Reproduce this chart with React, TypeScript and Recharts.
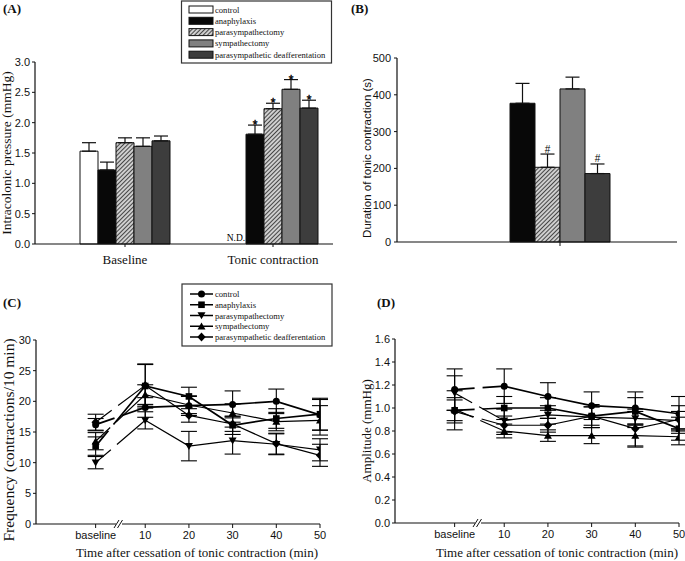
import React from "react";
import {
  BarChart,
  Bar,
  LineChart,
  Line,
  XAxis,
  YAxis,
  ErrorBar,
  LabelList,
  ReferenceDot,
} from "recharts";

const SERIF = '"Liberation Serif", "Times New Roman", serif';
const SANS = '"Liberation Sans", Arial, sans-serif';
const INK = "#111";

const groupNames = ["control", "anaphylaxis", "parasympathectomy", "sympathectomy", "parasympathetic deafferentation"];
const groupKeys = ["ctrl", "ana", "para", "symp", "deaff"];
const markerShapes = ["circle", "square", "down", "up", "diamond"];

// (A) intracolonic pressure, mmHg
const pressureCategories = ["Baseline", "Tonic contraction"];
const baselinePressure = [1.53, 1.22, 1.67, 1.61, 1.7];
const baselinePressureErr = [0.14, 0.13, 0.08, 0.14, 0.08];
const baselinePressureMarks = ["", "", "", "", ""];
const tonicPressure = [null, 1.81, 2.23, 2.55, 2.24];
const tonicPressureErr = [null, 0.15, 0.09, 0.16, 0.13];
const tonicPressureMarks = ["N.D.", "*", "*", "*", "*"];

// (B) duration of tonic contraction, s (no control group)
const durationKeys = ["ana", "para", "symp", "deaff"];
const duration = [377, 203, 416, 186];
const durationErr = [54, 36, 32, 26];
const durationMarks = ["", "#", "", "#"];

// (C) and (D) time course
const timeLabels = ["baseline", "10", "20", "30", "40", "50"];
const timePos = [-1.35, 10, 20, 30, 40, 50];

const freqControl = [16.2, 19.0, 19.3, 19.5, 20.0, 17.8];
const freqAna = [12.7, 22.5, 20.8, 16.1, 17.2, 17.9];
const freqPara = [10.0, 16.9, 12.7, 13.6, 13.0, 12.1];
const freqSymp = [13.5, 21.1, 19.4, 18.1, 16.7, 16.9];
const freqDeaff = [16.6, 22.6, 17.7, 16.3, 13.1, 11.2];
const freqControlErr = [1.0, 1.6, 1.6, 2.2, 2.0, 2.5];
const freqAnaErr = [1.5, 3.6, 1.5, 1.5, 1.6, 2.6];
const freqParaErr = [1.0, 1.4, 2.4, 2.2, 1.7, 1.8];
const freqSympErr = [1.4, 1.6, 1.4, 1.5, 1.5, 2.4];
const freqDeaffErr = [1.3, 3.4, 1.1, 1.2, 1.7, 1.8];

const ampControl = [1.16, 1.19, 1.1, 1.02, 1.0, 0.95];
const ampAna = [0.98, 1.0, 1.0, 0.93, 0.97, 0.82];
const ampPara = [1.13, 0.89, 0.94, 0.92, 0.91, 0.89];
const ampSymp = [0.99, 0.8, 0.76, 0.76, 0.76, 0.75];
const ampDeaff = [0.97, 0.85, 0.85, 0.93, 0.82, 0.9];
const ampControlErr = [0.18, 0.15, 0.12, 0.12, 0.14, 0.15];
const ampAnaErr = [0.17, 0.1, 0.09, 0.1, 0.12, 0.1];
const ampParaErr = [0.15, 0.1, 0.08, 0.09, 0.08, 0.08];
const ampSympErr = [0.1, 0.06, 0.05, 0.07, 0.1, 0.07];
const ampDeaffErr = [0.1, 0.08, 0.06, 0.08, 0.15, 0.12];

const barFill = (key: string, hatchId: string) =>
  ({ ctrl: "#ffffff", ana: "#080808", para: `url(#${hatchId})`, symp: "#808080", deaff: "#3d3d3d" } as any)[key];

const lineWidths = [1.7, 1.7, 1.2, 1.2, 1.2];

const pressureRows = [baselinePressure, tonicPressure].map((vals, gi) => {
  const errs = gi === 0 ? baselinePressureErr : tonicPressureErr;
  const marks = gi === 0 ? baselinePressureMarks : tonicPressureMarks;
  const row: any = { group: pressureCategories[gi] };
  groupKeys.forEach((k, j) => {
    row[k] = vals[j] ?? 0;
    row[k + "Err"] = [0, errs[j] ?? 0];
    row[k + "Mark"] = marks[j];
  });
  return row;
});

const durationRow: any = { group: "" };
durationKeys.forEach((k, j) => {
  durationRow[k] = duration[j];
  durationRow[k + "Err"] = [0, durationErr[j]];
  durationRow[k + "Mark"] = durationMarks[j];
});
const durationRows = [durationRow];

function buildTimeRows(series: number[][], errs: number[][]) {
  return timePos.map((t, i) => {
    const row: any = { t };
    groupKeys.forEach((k, j) => {
      row[k] = series[j][i];
      row[k + "Err"] = errs[j][i];
    });
    return row;
  });
}

const freqRows = buildTimeRows(
  [freqControl, freqAna, freqPara, freqSymp, freqDeaff],
  [freqControlErr, freqAnaErr, freqParaErr, freqSympErr, freqDeaffErr]
);
const ampRows = buildTimeRows(
  [ampControl, ampAna, ampPara, ampSymp, ampDeaff],
  [ampControlErr, ampAnaErr, ampParaErr, ampSympErr, ampDeaffErr]
);

const fmtTime = (v: number) => {
  const i = timePos.indexOf(v);
  return i >= 0 ? timeLabels[i] : "";
};

function Hatch({ id }: { id: string }) {
  return (
    <pattern id={id} width={3} height={3} patternUnits="userSpaceOnUse" patternTransform="rotate(45)">
      <rect width={3} height={3} fill="#cfcfcf" />
      <line x1={0} y1={0} x2={0} y2={3} stroke="#222" strokeWidth={1.6} />
    </pattern>
  );
}

function MarkerShape({ shape, cx, cy }: { shape: string; cx: number; cy: number }) {
  if (shape === "circle") return <circle cx={cx} cy={cy} r={3.5} fill="#000" />;
  if (shape === "square") return <rect x={cx - 3.3} y={cy - 3.3} width={6.6} height={6.6} fill="#000" />;
  if (shape === "down")
    return <polygon points={`${cx - 4},${cy - 3.2} ${cx + 4},${cy - 3.2} ${cx},${cy + 3.8}`} fill="#000" />;
  if (shape === "up")
    return <polygon points={`${cx - 4},${cy + 3.2} ${cx + 4},${cy + 3.2} ${cx},${cy - 3.8}`} fill="#000" />;
  return <polygon points={`${cx},${cy - 4.4} ${cx + 4.2},${cy} ${cx},${cy + 4.4} ${cx - 4.2},${cy}`} fill="#000" />;
}

const makeDot = (shape: string) => (props: any) => {
  const { cx, cy, index } = props;
  if (cx == null || cy == null) return <g key={`${shape}-${index}`} />;
  return (
    <g key={`${shape}-${index}`}>
      <MarkerShape shape={shape} cx={cx} cy={cy} />
    </g>
  );
};

// significance marks sit above the error cap; an empty (N.D.) slot is
// labelled from the neighbouring bar, since a zero bar gets no label
const markLabel = (rows: any[], keys: string[], key: string) => (props: any) => {
  const vb = props.viewBox ?? props;
  const { x, y, width, height } = vb;
  const row = rows[props.index];
  if (!row) return null;
  const prevKey = keys[keys.indexOf(key) - 1];
  const nd =
    prevKey && row[prevKey + "Mark"] === "N.D." ? (
      <text x={x - width / 2 - 1} y={y + height - 3} textAnchor="middle" fontSize={9.5} fontFamily={SERIF} fill="#000">
        N.D.
      </text>
    ) : null;
  const mark = row[key + "Mark"];
  if (!mark || mark === "N.D.") return nd;
  const v = row[key];
  const e = row[key + "Err"][1];
  const capY = y - (v ? (height * e) / v : 0);
  const sig =
    mark === "#" ? (
      <text x={x + width / 2} y={capY - 1.5} textAnchor="middle" fontSize={10} fontFamily={SANS} fill="#000">
        #
      </text>
    ) : (
      <text
        x={x + width / 2}
        y={capY + 4}
        textAnchor="middle"
        fontSize={12}
        fontFamily={SANS}
        fill="#000"
        stroke="#000"
        strokeWidth={0.4}
      >
        *
      </text>
    );
  return (
    <g>
      {nd}
      {sig}
    </g>
  );
};

const axisLine = { stroke: INK, strokeWidth: 1.2 };
const tickLine = { stroke: INK, strokeWidth: 1 };
const sansTick = { fontSize: 11, fill: INK, fontFamily: SANS };

// x axes keep their default 30px height, so bottom margins are reduced by 30
function PressureChart() {
  return (
    <BarChart
      width={345}
      height={280}
      data={pressureRows}
      margin={{ top: 62, right: 12, bottom: 6, left: 0 }}
      barGap={0}
      barSize={18}
    >
      <defs>
        <Hatch id="hatchA" />
      </defs>
      <XAxis
        dataKey="group"
        padding={{ left: 16, right: -14 }}
        axisLine={axisLine}
        tickLine={tickLine}
        tickSize={3}
        tickMargin={8}
        interval={0}
        tick={{ fontSize: 13, fill: INK, fontFamily: SERIF }}
      />
      <YAxis
        width={35}
        domain={[0, 3]}
        ticks={[0, 0.5, 1, 1.5, 2, 2.5, 3]}
        tickFormatter={(v: number) => v.toFixed(1)}
        axisLine={axisLine}
        tickLine={tickLine}
        tickSize={3}
        tickMargin={2}
        tick={sansTick}
      />
      {groupKeys.map((k) => (
        <Bar key={k} dataKey={k} fill={barFill(k, "hatchA")} stroke={INK} strokeWidth={1} isAnimationActive={false}>
          <ErrorBar dataKey={k + "Err"} width={7} stroke={INK} strokeWidth={1.2} direction="y" />
          <LabelList dataKey={k} content={markLabel(pressureRows, groupKeys, k)} />
        </Bar>
      ))}
    </BarChart>
  );
}

function DurationChart() {
  return (
    <BarChart
      width={340}
      height={280}
      data={durationRows}
      margin={{ top: 58, right: 8, bottom: 8, left: 0 }}
      barGap={0}
      barSize={25}
    >
      <defs>
        <Hatch id="hatchB" />
      </defs>
      <XAxis
        dataKey="group"
        padding={{ left: 103, right: 57 }}
        axisLine={axisLine}
        tickLine={tickLine}
        tickSize={4}
        tickFormatter={() => ""}
      />
      <YAxis
        width={52}
        domain={[0, 500]}
        ticks={[0, 100, 200, 300, 400, 500]}
        axisLine={axisLine}
        tickLine={tickLine}
        tickSize={3}
        tickMargin={3}
        tick={sansTick}
      />
      {durationKeys.map((k) => (
        <Bar key={k} dataKey={k} fill={barFill(k, "hatchB")} stroke={INK} strokeWidth={1} isAnimationActive={false}>
          <ErrorBar dataKey={k + "Err"} width={7} stroke={INK} strokeWidth={1.2} direction="y" />
          <LabelList dataKey={k} content={markLabel(durationRows, durationKeys, k)} />
        </Bar>
      ))}
    </BarChart>
  );
}

function BreakMark(props: any) {
  const { cx, cy } = props;
  if (cx == null) return null;
  return (
    <g>
      <rect x={cx - 3} y={cy - 1.5} width={6} height={3} fill="#fff" />
      <line x1={cx - 5} y1={cy + 4} x2={cx} y2={cy - 4} stroke={INK} strokeWidth={1} />
      <line x1={cx - 1.5} y1={cy + 4} x2={cx + 3.5} y2={cy - 4} stroke={INK} strokeWidth={1} />
    </g>
  );
}

function TimeChart(props: {
  rows: any[];
  width: number;
  margin: any;
  yWidth: number;
  yDomain: number[];
  yTicks: number[];
  yFmt?: (v: number) => string;
}) {
  const { rows, width, margin, yWidth, yDomain, yTicks, yFmt } = props;
  return (
    <LineChart width={width} height={281} data={rows} margin={margin}>
      <XAxis
        type="number"
        dataKey="t"
        domain={[-15, 50]}
        ticks={timePos}
        tickFormatter={fmtTime}
        interval={0}
        allowDataOverflow
        axisLine={axisLine}
        tickLine={tickLine}
        tickSize={4}
        tickMargin={3}
        tick={sansTick}
      />
      <YAxis
        width={yWidth}
        domain={yDomain}
        ticks={yTicks}
        tickFormatter={yFmt}
        axisLine={axisLine}
        tickLine={tickLine}
        tickSize={3}
        tickMargin={2}
        tick={sansTick}
      />
      {groupKeys.map((k, j) => (
        <Line
          key={k}
          dataKey={k}
          stroke="#000"
          strokeWidth={lineWidths[j]}
          strokeDasharray="20 8 10000"
          dot={makeDot(markerShapes[j])}
          activeDot={false}
          isAnimationActive={false}
        >
          <ErrorBar dataKey={k + "Err"} width={8} stroke="#000" strokeWidth={1.1} direction="y" />
        </Line>
      ))}
      <ReferenceDot x={4} y={yDomain[0]} r={0} shape={BreakMark} ifOverflow="visible" />
    </LineChart>
  );
}

function Overlay() {
  const rowA = (i: number) => 9.5 + i * 11.3;
  const rowC = (i: number) => 294 + i * 10.75;
  return (
    <svg width={685} height={561} style={{ position: "absolute", left: 0, top: 0, pointerEvents: "none" }}>
      <defs>
        <Hatch id="hatchL" />
      </defs>
      <g fontFamily={SERIF} fontWeight="bold" fontSize={13} fill={INK}>
        <text x={3} y={13}>(A)</text>
        <text x={351} y={13}>(B)</text>
        <text x={3} y={307}>(C)</text>
        <text x={377} y={307}>(D)</text>
      </g>
      <g fill={INK} textAnchor="middle">
        <text transform="translate(11,153) rotate(-90)" fontFamily={SERIF} fontSize={13.5}>
          Intracolonic pressure (mmHg)
        </text>
        <text transform="translate(371,158) rotate(-90)" fontFamily={SANS} fontSize={11.5}>
          Duration of tonic contraction (s)
        </text>
        <text transform="translate(14,440) rotate(-90)" fontFamily={SERIF} fontSize={15.5}>
          Frequency (contractions/10 min)
        </text>
        <text transform="translate(371,431) rotate(-90)" fontFamily={SERIF} fontSize={13}>
          Amplitude (mmHg)
        </text>
        <text x={197} y={557} fontFamily={SERIF} fontSize={13}>
          Time after cessation of tonic contraction (min)
        </text>
        <text x={557} y={557} fontFamily={SERIF} fontSize={13}>
          Time after cessation of tonic contraction (min)
        </text>
      </g>
      <rect x={181.5} y={1} width={150} height={62} fill="#fff" stroke="#333" strokeWidth={1.2} />
      {groupKeys.map((k, i) => (
        <g key={k}>
          <rect x={189} y={rowA(i) - 3.5} width={24} height={7} fill={barFill(k, "hatchL")} stroke={INK} strokeWidth={1} />
          <text x={215} y={rowA(i) + 3} fontFamily={SERIF} fontSize={8.6} fill={INK}>
            {groupNames[i]}
          </text>
        </g>
      ))}
      <rect x={182} y={284} width={150} height={62} fill="#fff" stroke="#333" strokeWidth={1.2} />
      {groupKeys.map((k, i) => (
        <g key={k}>
          <line x1={190} y1={rowC(i)} x2={213} y2={rowC(i)} stroke="#000" strokeWidth={1.5} />
          <MarkerShape shape={markerShapes[i]} cx={201.5} cy={rowC(i)} />
          <text x={215} y={rowC(i) + 3} fontFamily={SERIF} fontSize={8.6} fill={INK}>
            {groupNames[i]}
          </text>
        </g>
      ))}
    </svg>
  );
}

export default function App() {
  return (
    <div style={{ position: "fixed", left: 0, top: 0, width: 685, height: 561, background: "#fff", overflow: "hidden" }}>
      <div style={{ position: "absolute", left: 0, top: 0 }}>
        <PressureChart />
      </div>
      <div style={{ position: "absolute", left: 345, top: 0 }}>
        <DurationChart />
      </div>
      <div style={{ position: "absolute", left: 0, top: 280 }}>
        <TimeChart
          rows={freqRows}
          width={345}
          margin={{ top: 60, right: 25, bottom: 7, left: 0 }}
          yWidth={36}
          yDomain={[0, 30]}
          yTicks={[0, 5, 10, 15, 20, 25, 30]}
        />
      </div>
      <div style={{ position: "absolute", left: 345, top: 280 }}>
        <TimeChart
          rows={ampRows}
          width={340}
          margin={{ top: 59, right: 6, bottom: 8, left: 0 }}
          yWidth={50}
          yDomain={[0, 1.6]}
          yTicks={[0, 0.2, 0.4, 0.6, 0.8, 1.0, 1.2, 1.4, 1.6]}
          yFmt={(v: number) => v.toFixed(1)}
        />
      </div>
      <Overlay />
    </div>
  );
}
